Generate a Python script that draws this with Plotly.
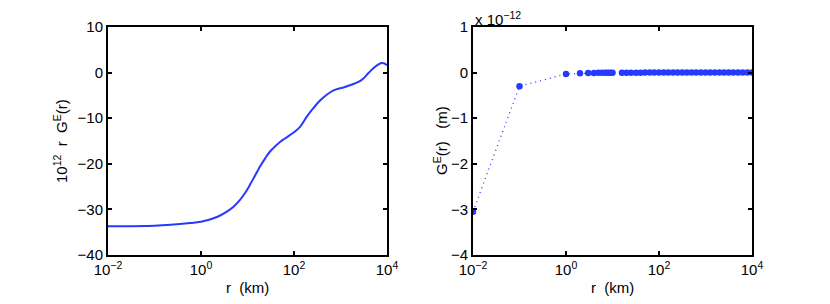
import plotly.graph_objects as go

# left panel: 10^12 r G^E(r) versus r (km)
r_curve = [0.01, 0.1, 0.58, 1, 1.55, 2.4, 3.6, 5, 6.9, 9, 11.3, 14.5, 18.6, 24, 30.5, 40, 50,
           65, 82, 105, 135, 187, 260, 363, 500, 710, 1200, 1900, 2500, 3100, 4000, 5000,
           6300, 7700, 8800, 10000]
rg_curve = [-33.7, -33.6, -33.0, -32.7, -32.2, -31.5, -30.5, -29.4, -27.9, -26.3, -24.6,
            -22.6, -20.6, -18.8, -17.3, -16.1, -15.2, -14.4, -13.7, -12.9, -11.9, -9.7,
            -7.8, -6.1, -4.9, -3.9, -3.2, -2.5, -2.0, -1.3, -0.1, 0.9, 1.7, 2.1, 2.0, 1.6]

# right panel: G^E(r) in units of 1e-12 m
r_pts = [0.01, 0.1, 1, 2, 3, 4, 5, 6, 7, 8, 9, 10,
         16, 20, 25, 32, 40, 50, 63, 79, 100, 126, 158, 200, 251, 316, 398, 501, 631,
         794, 1000, 1259, 1585, 1995, 2512, 3162, 3981, 5012, 6310, 7943, 10000]
g_pts = [-3.05, -0.3, -0.03, -0.016, -0.01, -0.008, -0.006, -0.005, -0.004, -0.004,
         -0.003, -0.003, -0.002, -0.001, -0.001, -0.001, -0.001, 0, 0, 0, 0, 0, 0, 0, 0,
         0, 0, 0, 0, 0, 0, 0, 0, 0, 0, 0, 0, 0, 0, 0, 0]

x_tickvals = [0.01, 1, 100, 10000]
x_ticktext = ['10<sup>\u22122</sup>', '10<sup>0</sup>', '10<sup>2</sup>', '10<sup>4</sup>']
left_yticks = [10, 0, -10, -20, -30, -40]
right_yticks = [1, 0, -1, -2, -3, -4]

blue = 'rgb(38,58,255)'
font = dict(family='Liberation Sans, Arial, sans-serif', size=15, color='black')

# the page has an 8px body margin, so pixel spots are shifted by 8
W, H, OFF = 830, 304, 8
def px(x):
    return (x - OFF) / W
def py(y):
    return 1 - (y - OFF) / H

left_dom = [px(108), px(387)]
right_dom = [px(473), px(752)]
ydom = [py(255), py(27)]

fig = go.Figure()
fig.add_scatter(x=r_curve, y=rg_curve, mode='lines', line=dict(color=blue, width=2, shape='spline'),
                xaxis='x', yaxis='y')
fig.add_scatter(x=r_pts, y=g_pts, mode='lines+markers',
                line=dict(color=blue, width=1.3, dash='1px,4px'),
                marker=dict(color=blue, size=6.5), xaxis='x2', yaxis='y2')

ax_common = dict(showline=True, linecolor='black', linewidth=2, mirror='ticks', ticks='inside',
                 ticklen=4, tickwidth=1.5, tickcolor='black', showgrid=False, zeroline=False,
                 tickfont=font, automargin=False)
xax = dict(ax_common, type='log', range=[-2, 4], tickvals=x_tickvals, ticktext=x_ticktext)

fig.update_layout(
    width=W, height=H, showlegend=False,
    paper_bgcolor='white', plot_bgcolor='white',
    margin=dict(l=0, r=0, t=0, b=0, autoexpand=False),
    font=font,
    xaxis=dict(xax, domain=left_dom, anchor='y'),
    yaxis=dict(ax_common, domain=ydom, range=[-40, 10], tickvals=left_yticks,
               ticktext=['10', '0', '\u221210', '\u221220', '\u221230', '\u221240'],
               anchor='x'),
    xaxis2=dict(xax, domain=right_dom, anchor='y2'),
    yaxis2=dict(ax_common, domain=ydom, range=[-4, 1], tickvals=right_yticks,
                ticktext=['1', '0', '\u22121', '\u22122', '\u22123', '\u22124'],
                anchor='x2'),
)

# axis titles placed as annotations so their spot matches the reference
titles = [
    dict(x=sum(left_dom) / 2, y=py(287), text='r  (km)', textangle=0),
    dict(x=sum(right_dom) / 2, y=py(287), text='r  (km)', textangle=0),
    dict(x=px(60), y=sum(ydom) / 2, text='10<sup>12</sup>  r  G<sup>E</sup>(r)', textangle=-90),
    dict(x=px(440), y=sum(ydom) / 2, text='G<sup>E</sup>(r)   (m)', textangle=-90),
]
for t in titles:
    fig.add_annotation(x=t['x'], y=t['y'], xref='paper', yref='paper', text=t['text'],
                       textangle=t['textangle'], showarrow=False, font=font,
                       xanchor='center', yanchor='middle')
fig.add_annotation(x=right_dom[0], y=ydom[1], xref='paper', yref='paper', xanchor='left', yanchor='bottom',
                   text='x 10<sup>\u221212</sup>', showarrow=False, font=font, yshift=-3)

fig.write_html("out.html")
